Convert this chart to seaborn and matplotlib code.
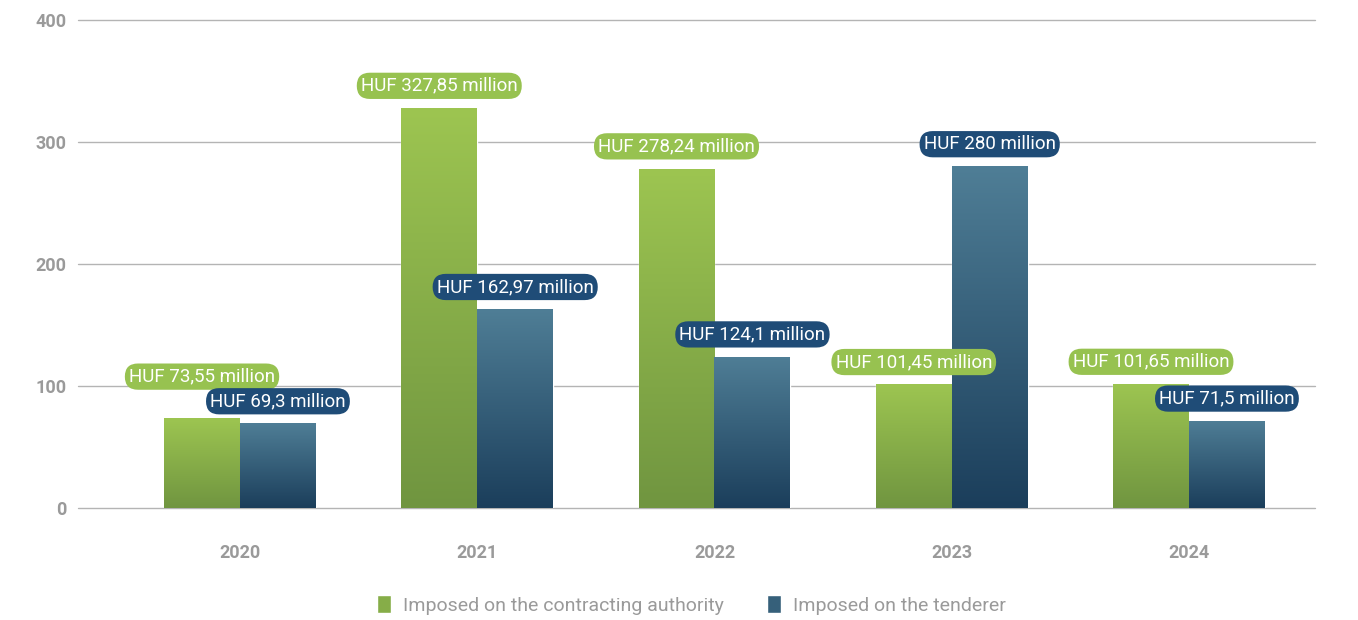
import matplotlib
matplotlib.use("Agg")
import matplotlib.pyplot as plt
from matplotlib.colors import LinearSegmentedColormap
import numpy as np
import pandas as pd
import seaborn as sns

# Chart values
years = ["2020", "2021", "2022", "2023", "2024"]
series = ["Imposed on the contracting authority", "Imposed on the tenderer"]
authority = [73.55, 327.85, 278.24, 101.45, 101.65]
tenderer = [69.3, 162.97, 124.1, 280, 71.5]
y_ticks = [0, 100, 200, 300, 400]

df = pd.DataFrame({
    "year": years * 2,
    "series": [series[0]] * len(years) + [series[1]] * len(years),
    "value": authority + tenderer,
})

# Styling
sns.set_style("white")
plt.rcParams["font.family"] = ["Roboto", "DejaVu Sans"]

green_top, green_bottom = "#9dc551", "#709540"
blue_top, blue_bottom = "#4f7e96", "#1b3e5b"
pill_colors = ["#97c250", "#1f4c77"]
gray_text = "#9a9a9a"

fig = plt.figure(figsize=(13.58, 6.2), dpi=100)
ax = fig.add_axes([0.0574, 0.1806, 0.9109, 0.7871])

sns.barplot(data=df, x="year", y="value", hue="series", hue_order=series,
            palette=["#86ad48", "#36607a"], width=0.64, saturation=1,
            ax=ax, zorder=2)

# Vertical gradient fill on each bar (clipped to the bar drawn by seaborn)
cmaps = [LinearSegmentedColormap.from_list("g", [green_bottom, green_top]),
         LinearSegmentedColormap.from_list("b", [blue_bottom, blue_top])]
grad = np.linspace(0, 1, 256).reshape(-1, 1)
for cont, cmap in zip(ax.containers, cmaps):
    for bar in cont:
        x0, y0 = bar.get_x(), bar.get_y()
        w, h = bar.get_width(), bar.get_height()
        im = ax.imshow(grad, cmap=cmap, origin="lower", aspect="auto",
                       extent=[x0, x0 + w, y0, y0 + h], zorder=2.5)
        im.set_clip_path(bar)

# Value labels as pills
label_offsets = {(0, 0): 30}  # 2020 authority label raised to clear the other pill
for i, (cont, vals) in enumerate(zip(ax.containers, [authority, tenderer])):
    for j, (bar, v) in enumerate(zip(cont, vals)):
        txt = "HUF " + f"{v:g}".replace(".", ",") + " million"
        ax.annotate(txt, xy=(bar.get_x() + bar.get_width() / 2, bar.get_height()),
                    xytext=(0, label_offsets.get((i, j), 16)), textcoords="offset points",
                    ha="center", va="center", color="white", fontsize=13.5, zorder=5,
                    bbox=dict(boxstyle="round,pad=0.22,rounding_size=0.7",
                              fc=pill_colors[i], ec="none"))

ax.set_xlim(-0.683, 4.531)
ax.set_ylim(0, 400)
ax.set_yticks(y_ticks)
ax.set_yticklabels([str(t) for t in y_ticks])
ax.set_xlabel("")
ax.set_ylabel("")
ax.grid(axis="y", color="#b4b4b4", linewidth=1.0, zorder=0)
for gl in ax.get_ygridlines():
    gl.set_clip_on(False)
ax.set_axisbelow(True)
for s in ax.spines.values():
    s.set_visible(False)
ax.tick_params(axis="y", length=0, pad=8, labelsize=13, labelcolor=gray_text)
ax.tick_params(axis="x", length=0, pad=26, labelsize=13, labelcolor=gray_text)
for lab in ax.get_xticklabels() + ax.get_yticklabels():
    lab.set_fontweight("semibold")

sns.move_legend(ax, "center", bbox_to_anchor=(0.509, 0.024), bbox_transform=fig.transFigure,
                ncol=2, frameon=False, title=None, fontsize=14, handlelength=0.75,
                handleheight=1.05, handletextpad=0.6, columnspacing=2.2)
for t in ax.get_legend().get_texts():
    t.set_color(gray_text)

fig.savefig("out.png", dpi=100)
